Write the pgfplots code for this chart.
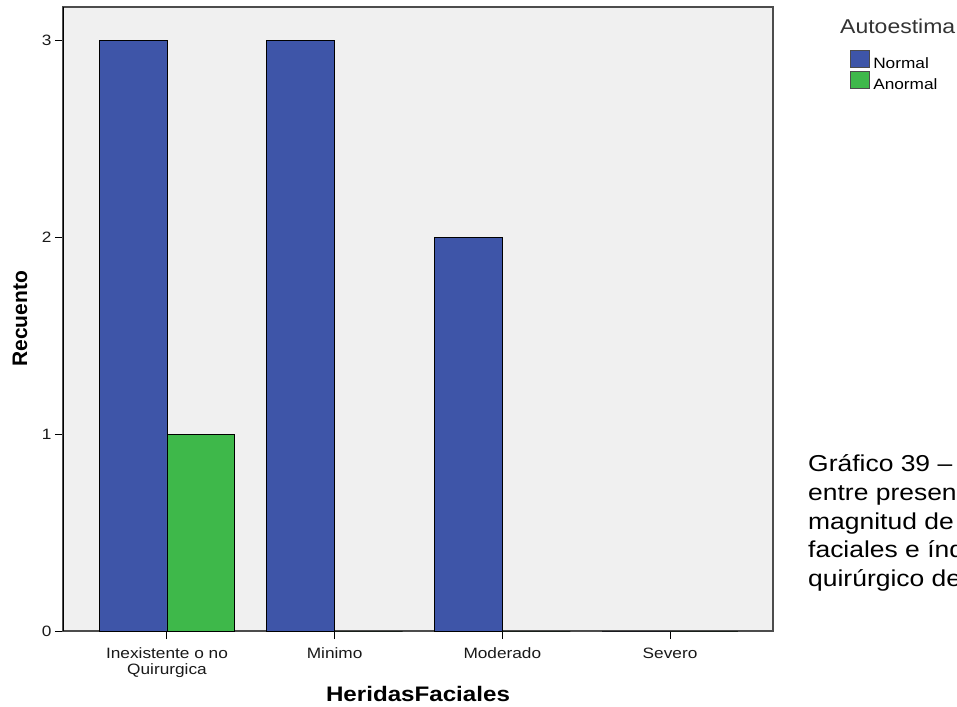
\documentclass[border=0pt]{standalone}
\usepackage{fontspec}
\setmainfont{Liberation Sans}
\usepackage{graphicx}
\usepackage{pgfplots}
\pgfplotsset{compat=1.18}
\definecolor{bgc}{HTML}{F0F0F0}
\definecolor{blueC}{HTML}{3E55A8}
\definecolor{greenC}{HTML}{3EB84A}
\newcommand{\sx}[1]{\scalebox{1.15}[1]{#1}}
\newcommand{\fs}[2]{\fontsize{#1}{#2}\selectfont}
\begin{document}
\begin{tikzpicture}[x=1pt,y=1pt]
\useasboundingbox (0,0) rectangle (957,706);
\clip (0,0) rectangle (957,706);
\coordinate (A) at (63,75);
\begin{axis}[
  at={(A)}, anchor=south west, scale only axis,
  width=710pt, height=624pt,
  xmin=-0.62, xmax=3.614, ymin=0, ymax=3.168,
  axis background/.style={fill=bgc},
  axis line style={draw=black!70, line width=1.1pt},
  xtick={0,1,2,3},
  xticklabels={{\sx{\begin{tabular}[t]{@{}c@{}}Inexistente o no\\Quirurgica\end{tabular}}},{\sx{Minimo}},{\sx{Moderado}},{\sx{Severo}}},
  ytick={0,1,2,3},
  yticklabels={{\sx{0}},{\sx{1}},{\sx{2}},{\sx{3}}},
  tick align=outside, major tick length=8pt,
  xtick pos=lower, ytick pos=left,
  tick style={black, line width=1pt},
  ticklabel style={font=\fs{15}{16}, text=black!90},
  xticklabel style={anchor=base, yshift=-19pt},
  xlabel={\sx{HeridasFaciales}}, ylabel={Recuento},
  xlabel style={font=\bfseries\fs{21}{24}, at={(axis description cs:0.5,-0.1122)}, anchor=base},
  ylabel style={font=\bfseries\fs{21}{24}, at={(axis description cs:-0.0606,0.5)}, anchor=center},
  legend style={at={(axis description cs:1.1077,0.932)}, anchor=north west, draw=none, fill=none,
    inner sep=0pt, nodes={inner sep=1.5pt}, font=\fs{15}{17}, row sep=-1pt, legend cell align=left},
]
\addplot[ybar, bar width=0.405, bar shift=-0.2025, fill=blueC, draw=black, line width=0.9pt,
  legend image code/.code={\draw[fill=blueC, draw=black!70, line width=0.6pt] (0pt,-3pt) rectangle (19pt,14pt);}]
  coordinates {(0,3) (1,3) (2,2) (3,0)};
\addlegendentry{\hspace{2.5pt}\sx{Normal}}
\addplot[ybar, bar width=0.405, bar shift=0.2025, fill=greenC, draw=black, line width=0.9pt,
  legend image code/.code={\draw[fill=greenC, draw=black!70, line width=0.6pt] (0pt,-3pt) rectangle (19pt,14pt);}]
  coordinates {(0,1) (1,0) (2,0) (3,0)};
\addlegendentry{\hspace{2.5pt}\sx{Anormal}}
\draw[black, line width=1.2pt] (rel axis cs:0,0) -- (rel axis cs:0,1);
\end{axis}
\node[anchor=base west, font=\fs{20}{22}, text=black!80, inner sep=0pt] at (840,672) {\sx{Autoestima}};
\node[anchor=base west, font=\fs{23}{29}, inner sep=0pt] at (808,234) {\sx{Gráfico 39 – Relación}};
\node[anchor=base west, font=\fs{23}{29}, inner sep=0pt] at (808,205) {\sx{entre presencia y}};
\node[anchor=base west, font=\fs{23}{29}, inner sep=0pt] at (808,176) {\sx{magnitud de heridas}};
\node[anchor=base west, font=\fs{23}{29}, inner sep=0pt] at (808,148) {\sx{faciales e índice}};
\node[anchor=base west, font=\fs{23}{29}, inner sep=0pt] at (808,119) {\sx{quirúrgico de autoestima}};
\end{tikzpicture}
\end{document}
